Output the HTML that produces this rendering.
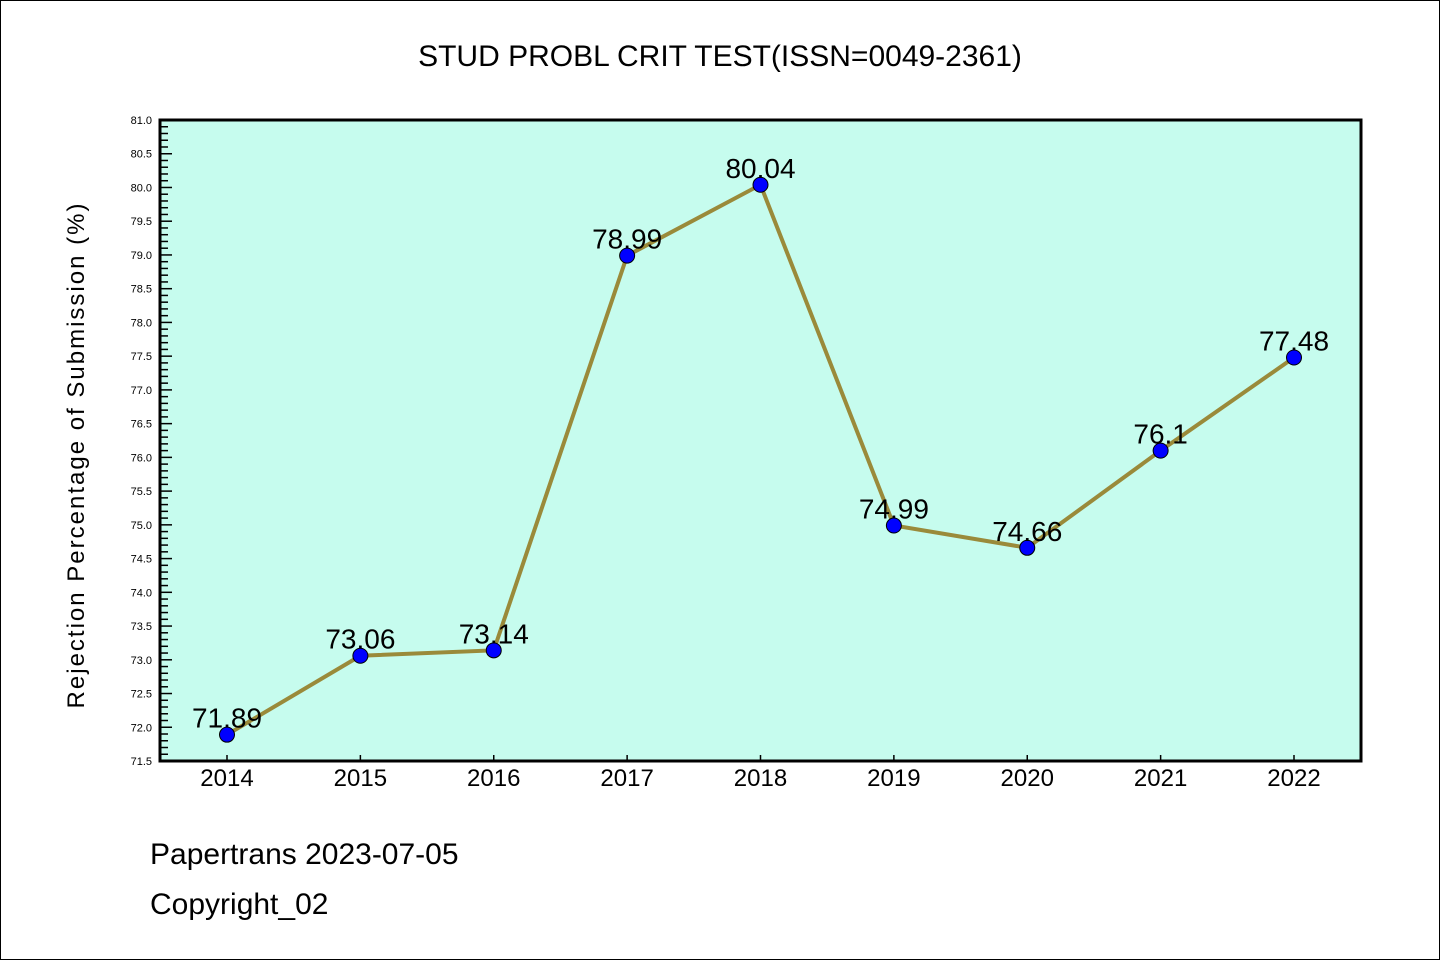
<!DOCTYPE html>
<html><head><meta charset="utf-8"><style>
body{margin:0;background:#fff;}
svg{display:block;font-family:"WenQuanYi Zen Hei","Liberation Sans",sans-serif;}
</style></head><body>
<svg id="chart" width="1440" height="960">
<rect x="0.5" y="0.5" width="1439" height="959" fill="#fff" stroke="#000"/>
<text x="720" y="66" font-size="30" text-anchor="middle">STUD PROBL CRIT TEST(ISSN=0049-2361)</text>
<rect x="160" y="120" width="1201" height="641" fill="#c6fcee"/>
<g id="yticks"></g><g id="xticks"></g><g id="series"></g>
<rect x="160" y="120" width="1201" height="641" fill="none" stroke="#000" stroke-width="3"/>
<text transform="translate(84,455) rotate(-90)" font-size="24" text-anchor="middle" letter-spacing="2">Rejection Percentage of Submission (%)</text>
<text x="150" y="864" font-size="30">Papertrans 2023-07-05</text>
<text x="150" y="914" font-size="30">Copyright_02</text>
</svg>
<script>
const categories=["2014","2015","2016","2017","2018","2019","2020","2021","2022"];
const values=[71.89,73.06,73.14,78.99,80.04,74.99,74.66,76.1,77.48];
const valueLabels=["71.89","73.06","73.14","78.99","80.04","74.99","74.66","76.1","77.48"];
const yMin=71.5, yMax=81.0;
const NS="http://www.w3.org/2000/svg";
function x(i){return 227+i*(1294-227)/(categories.length-1);}
function y(v){return 761-(v-yMin)/(yMax-yMin)*641;}
function mk(tag,attrs,parent){const e=document.createElementNS(NS,tag);for(const k in attrs)e.setAttribute(k,attrs[k]);parent.appendChild(e);return e;}
const yt=document.getElementById('yticks');
for(let k=0;k<=95;k++){
  const v=yMin+k*0.1, yy=y(v), major=k%5===0;
  const l=mk('line',{x1:160,x2:major?172:168,y1:yy,y2:yy,stroke:'#000','stroke-width':1.5},yt);
  
  
  if(major){
    const t=mk('text',{x:152,y:yy+4,'font-size':11,'text-anchor':'end'},yt);
    
    
    t.textContent=v.toFixed(1);
  }
}
const xt=document.getElementById('xticks');
categories.forEach((c,i)=>{
  const l=mk('line',{x1:x(i),x2:x(i),y1:755,y2:761,stroke:'#000','stroke-width':1.5},xt);
  
  
  const t=mk('text',{x:x(i),y:786,'font-size':24,'text-anchor':'middle'},xt);
  
  
  t.textContent=c;
});
const s=document.getElementById('series');
const p=mk('polyline',{points:values.map((v,i)=>x(i)+','+y(v)).join(' '),fill:'none',stroke:'#9a8a3a','stroke-width':4},s);


values.forEach((v,i)=>{
  const c=mk('circle',{cx:x(i),cy:y(v),r:7.5,fill:'#0000ff',stroke:'#000','stroke-width':1},s);
  
  
});
values.forEach((v,i)=>{
  const t=mk('text',{x:x(i),y:y(v)-7,'font-size':28,'text-anchor':'middle'},s);
  
  
  t.textContent=valueLabels[i];
});
</script>
</body></html>
